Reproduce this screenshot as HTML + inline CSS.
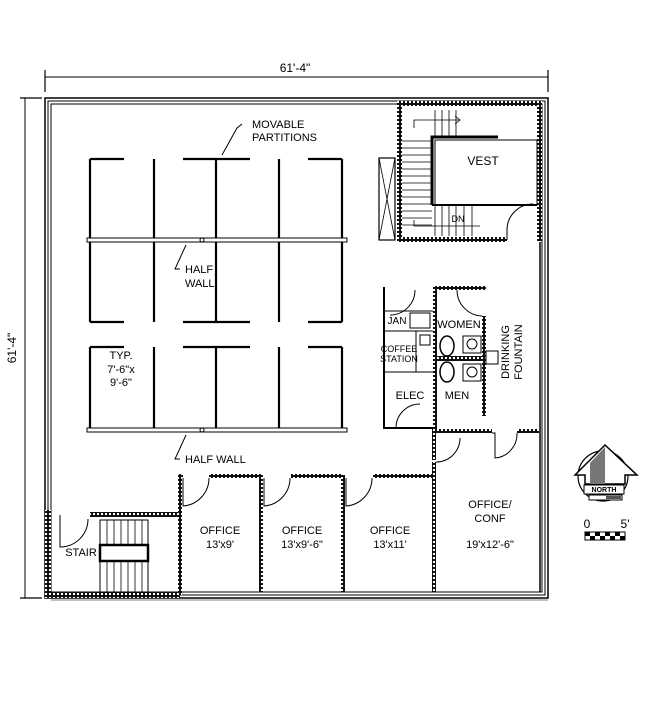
<!DOCTYPE html>
<html><head><meta charset="utf-8"><style>
html,body{margin:0;padding:0;background:#fff;}
svg{display:block;font-family:"Liberation Sans",sans-serif;}
</style></head><body>
<svg width="650" height="715" viewBox="0 0 650 715" xmlns="http://www.w3.org/2000/svg">
<defs>
<pattern id="hat" width="4" height="4" patternUnits="userSpaceOnUse">
<rect width="4" height="4" fill="#111"/><rect x="1" y="1" width="2" height="2" fill="#fff"/>
</pattern>
</defs>
<g stroke="#000" fill="none">
<line x1="45" y1="77" x2="548" y2="77" stroke-width="1"/>
<line x1="45" y1="70" x2="45" y2="92" stroke-width="1.2"/>
<line x1="548" y1="70" x2="548" y2="92" stroke-width="1.2"/>
<line x1="25" y1="98" x2="25" y2="598" stroke-width="1"/>
<line x1="20" y1="98" x2="42" y2="98" stroke-width="1.2"/>
<line x1="20" y1="598" x2="42" y2="598" stroke-width="1.2"/>
<rect x="45" y="98" width="503" height="500" stroke-width="1.5"/>
<rect x="48" y="101" width="497" height="494" stroke-width="1"/>
<rect x="51" y="104" width="491" height="488" stroke-width="1"/>
<rect x="537" y="101" width="5" height="140" fill="url(#hat)" stroke="none"/>
<rect x="397" y="101" width="140" height="5" fill="url(#hat)" stroke="none"/>
<rect x="397" y="101" width="5" height="141" fill="url(#hat)" stroke="none"/>
<rect x="397" y="237" width="110" height="5" fill="url(#hat)" stroke="none"/>
<rect x="45" y="592" width="135" height="6" fill="url(#hat)" stroke="none"/>
<rect x="45" y="510" width="6" height="88" fill="url(#hat)" stroke="none"/>
<rect x="90" y="512" width="90" height="5" fill="url(#hat)" stroke="none"/>
<rect x="178" y="475" width="4" height="120" fill="url(#hat)" stroke="none"/>
<rect x="259" y="475" width="4" height="117" fill="url(#hat)" stroke="none"/>
<rect x="341" y="475" width="4" height="117" fill="url(#hat)" stroke="none"/>
<rect x="432" y="462" width="4" height="130" fill="url(#hat)" stroke="none"/>
<rect x="209" y="474" width="52" height="4" fill="url(#hat)" stroke="none"/>
<rect x="291" y="474" width="52" height="4" fill="url(#hat)" stroke="none"/>
<rect x="373" y="474" width="61" height="4" fill="url(#hat)" stroke="none"/>
<rect x="178" y="474" width="5" height="4" fill="url(#hat)" stroke="none"/>
<rect x="432" y="429" width="60" height="4" fill="url(#hat)" stroke="none"/>
<rect x="517" y="429" width="22" height="4" fill="url(#hat)" stroke="none"/>
<rect x="433" y="287" width="4" height="143" fill="url(#hat)" stroke="none"/>
<rect x="433" y="286" width="53" height="4" fill="url(#hat)" stroke="none"/>
<rect x="482" y="316" width="4" height="100" fill="url(#hat)" stroke="none"/>
<rect x="437" y="356" width="45" height="5" fill="url(#hat)" stroke="none"/>
<rect x="432" y="430" width="4" height="30" fill="url(#hat)" stroke="none"/>
<path d="M183 478 v28 a28 28 0 0 0 26 -28" stroke-width="1"/>
<path d="M264 478 v28 a28 28 0 0 0 26 -28" stroke-width="1"/>
<path d="M346 478 v28 a28 28 0 0 0 26 -28" stroke-width="1"/>
<path d="M60 515 v32 a28 28 0 0 0 28 -28" stroke-width="1"/>
<path d="M492 433 h3 v25 a24 24 0 0 0 22 -25" stroke-width="1"/>
<path d="M507 240 v-10 a26 26 0 0 1 26 -26" stroke-width="1"/>
<path d="M457 290 a26 26 0 0 0 25 26" stroke-width="1"/>
<path d="M396 428 a24 24 0 0 1 24 -24" stroke-width="1"/>
<path d="M390 315 a25 25 0 0 0 25 -25" stroke-width="1"/>
<path d="M436 462 a24 24 0 0 0 24 -24" stroke-width="1"/>
<polyline points="384,287 384,428 433,428" stroke-width="2"/>
<line x1="384" y1="311" x2="433" y2="311" stroke-width="1"/>
<line x1="384" y1="331" x2="433" y2="331" stroke-width="1"/>
<line x1="384" y1="372" x2="433" y2="372" stroke-width="1"/>
<line x1="416" y1="331" x2="416" y2="372" stroke-width="1"/>
<rect x="410" y="313" width="20" height="15" stroke-width="1"/>
<rect x="420" y="335" width="10" height="10" stroke-width="1"/>
<ellipse cx="447" cy="346" rx="7" ry="10" stroke-width="1.5"/>
<ellipse cx="447" cy="372" rx="7" ry="10" stroke-width="1.5"/>
<rect x="463" y="336" width="18" height="17" stroke-width="1"/>
<rect x="463" y="364" width="18" height="17" stroke-width="1"/>
<circle cx="472" cy="344" r="5"/><circle cx="472" cy="372" r="5"/>
<rect x="486" y="351" width="12" height="13" stroke-width="1"/>
<line x1="540" y1="242" x2="540" y2="592" stroke-width="1.5"/>
<polyline points="432,205 432,137 498,137" stroke-width="3"/>
<rect x="435" y="140" width="102" height="65" stroke-width="1"/>
<line x1="432" y1="205" x2="537" y2="205" stroke-width="2"/>
<g stroke-width="0.8">
<line x1="402" y1="141" x2="432" y2="141"/><line x1="402" y1="148" x2="432" y2="148"/>
<line x1="402" y1="155" x2="432" y2="155"/><line x1="402" y1="162" x2="432" y2="162"/>
<line x1="402" y1="169" x2="432" y2="169"/><line x1="402" y1="176" x2="432" y2="176"/>
<line x1="402" y1="183" x2="432" y2="183"/><line x1="402" y1="190" x2="432" y2="190"/>
<line x1="402" y1="197" x2="432" y2="197"/><line x1="402" y1="204" x2="432" y2="204"/>
<line x1="402" y1="211" x2="432" y2="211"/><line x1="402" y1="218" x2="432" y2="218"/>
<line x1="402" y1="225" x2="432" y2="225"/>
<line x1="435" y1="110" x2="435" y2="137"/><line x1="442" y1="110" x2="442" y2="137"/>
<line x1="449" y1="110" x2="449" y2="137"/><line x1="456" y1="110" x2="456" y2="137"/>
<line x1="435" y1="205" x2="435" y2="236"/><line x1="442" y1="205" x2="442" y2="236"/>
<line x1="449" y1="205" x2="449" y2="236"/><line x1="456" y1="205" x2="456" y2="236"/>
<line x1="464" y1="205" x2="464" y2="236"/><line x1="472" y1="205" x2="472" y2="236"/>
<polyline points="414,128 414,120 460,120"/><polyline points="455,116 460,120 455,124"/>
<polyline points="414,220 414,226 480,226"/>
</g>
<rect x="379" y="158" width="16" height="82" stroke-width="1.2"/>
<line x1="379" y1="158" x2="395" y2="240" stroke-width="0.8"/>
<line x1="395" y1="158" x2="379" y2="240" stroke-width="0.8"/>
<rect x="100" y="520" width="48" height="72" stroke-width="1"/>
<g stroke-width="0.8">
<line x1="107" y1="520" x2="107" y2="592"/><line x1="114" y1="520" x2="114" y2="592"/>
<line x1="121" y1="520" x2="121" y2="592"/><line x1="128" y1="520" x2="128" y2="592"/>
<line x1="135" y1="520" x2="135" y2="592"/><line x1="142" y1="520" x2="142" y2="592"/>
</g>
<rect x="100" y="545" width="48" height="16" fill="#fff" stroke-width="2.5"/>
<line x1="51" y1="600" x2="548" y2="600" stroke-width="0.5"/>
<g stroke-width="2.2">
<line x1="90" y1="159" x2="90" y2="322"/><line x1="154" y1="159" x2="154" y2="322"/>
<line x1="216" y1="159" x2="216" y2="322"/><line x1="279" y1="159" x2="279" y2="322"/>
<line x1="342" y1="159" x2="342" y2="322"/>
<line x1="90" y1="347" x2="90" y2="428"/><line x1="154" y1="347" x2="154" y2="428"/>
<line x1="216" y1="347" x2="216" y2="428"/><line x1="279" y1="347" x2="279" y2="428"/>
<line x1="342" y1="347" x2="342" y2="428"/>
<line x1="90" y1="159" x2="124" y2="159"/><line x1="183" y1="159" x2="250" y2="159"/><line x1="308" y1="159" x2="342" y2="159"/>
<line x1="90" y1="322" x2="124" y2="322"/><line x1="183" y1="322" x2="250" y2="322"/><line x1="308" y1="322" x2="342" y2="322"/>
<line x1="90" y1="347" x2="124" y2="347"/><line x1="183" y1="347" x2="250" y2="347"/><line x1="308" y1="347" x2="342" y2="347"/>
</g>
<rect x="87" y="238" width="260" height="4" fill="#fff" stroke-width="1"/>
<rect x="87" y="428" width="260" height="4" fill="#fff" stroke-width="1"/>
<circle cx="202" cy="240" r="2" fill="#fff"/><circle cx="202" cy="430" r="2" fill="#fff"/>
<polyline points="222,155 237,128 242,124" stroke-width="1"/>
<polyline points="186,245 175,269 180,269" stroke-width="1"/>
<polyline points="186,435 175,459 180,459" stroke-width="1"/>
<circle cx="603" cy="476" r="25" stroke-width="1.2"/>
<polygon points="575,475 605,445 637,475 625,475 625,484 585,484 585,475" fill="#fff" stroke-width="1.5"/>
<polygon points="590,463 605,447 605,484 590,484" fill="#777" stroke="none"/>
<rect x="584" y="485" width="40" height="9" fill="#fff" stroke-width="1"/>
<rect x="589" y="495" width="33" height="5" fill="#fff" stroke-width="1"/>
<rect x="606" y="496" width="15" height="3" fill="#555" stroke="none"/>
<rect x="585" y="532" width="40" height="8" stroke-width="1"/>
</g>
<g fill="#000">
<rect x="585" y="532" width="5" height="4"/><rect x="595" y="532" width="5" height="4"/><rect x="605" y="532" width="5" height="4"/><rect x="615" y="532" width="5" height="4"/>
<rect x="590" y="536" width="5" height="4"/><rect x="600" y="536" width="5" height="4"/><rect x="610" y="536" width="5" height="4"/><rect x="620" y="536" width="5" height="4"/>
</g>
<g font-size="11" fill="#000" text-anchor="middle">
<text x="295" y="72" font-size="12">61'-4"</text>
<text transform="translate(16,348) rotate(-90)" font-size="12">61'-4"</text>
<text x="252" y="128" text-anchor="start">MOVABLE</text>
<text x="252" y="141" text-anchor="start">PARTITIONS</text>
<text x="185" y="273" text-anchor="start">HALF</text>
<text x="185" y="287" text-anchor="start">WALL</text>
<text x="185" y="463" text-anchor="start">HALF  WALL</text>
<text x="121" y="359">TYP.</text>
<text x="121" y="373">7'-6"x</text>
<text x="121" y="386">9'-6"</text>
<text x="483" y="165" font-size="12">VEST</text>
<text x="458" y="222" font-size="9">DN</text>
<text x="397" y="324" font-size="10">JAN</text>
<text x="459" y="328" font-size="11">WOMEN</text>
<text x="399" y="352" font-size="9">COFFEE</text>
<text x="399" y="362" font-size="9">STATION</text>
<text x="410" y="399" font-size="11">ELEC</text>
<text x="457" y="399" font-size="11">MEN</text>
<text transform="translate(509,352) rotate(-90)" font-size="11">DRINKING</text>
<text transform="translate(522,352) rotate(-90)" font-size="11">FOUNTAIN</text>
<text x="81" y="556" font-size="11">STAIR</text>
<text x="220" y="534">OFFICE</text><text x="220" y="548">13'x9'</text>
<text x="302" y="534">OFFICE</text><text x="302" y="548">13'x9'-6"</text>
<text x="390" y="534">OFFICE</text><text x="390" y="548">13'x11'</text>
<text x="490" y="508">OFFICE/</text><text x="490" y="522">CONF</text><text x="490" y="548">19'x12'-6"</text>
<text x="604" y="492" font-size="7" font-weight="bold">NORTH</text>
<text x="587" y="528" font-size="12">0</text>
<text x="625" y="528" font-size="12">5'</text>
</g>
</svg>
</body></html>
